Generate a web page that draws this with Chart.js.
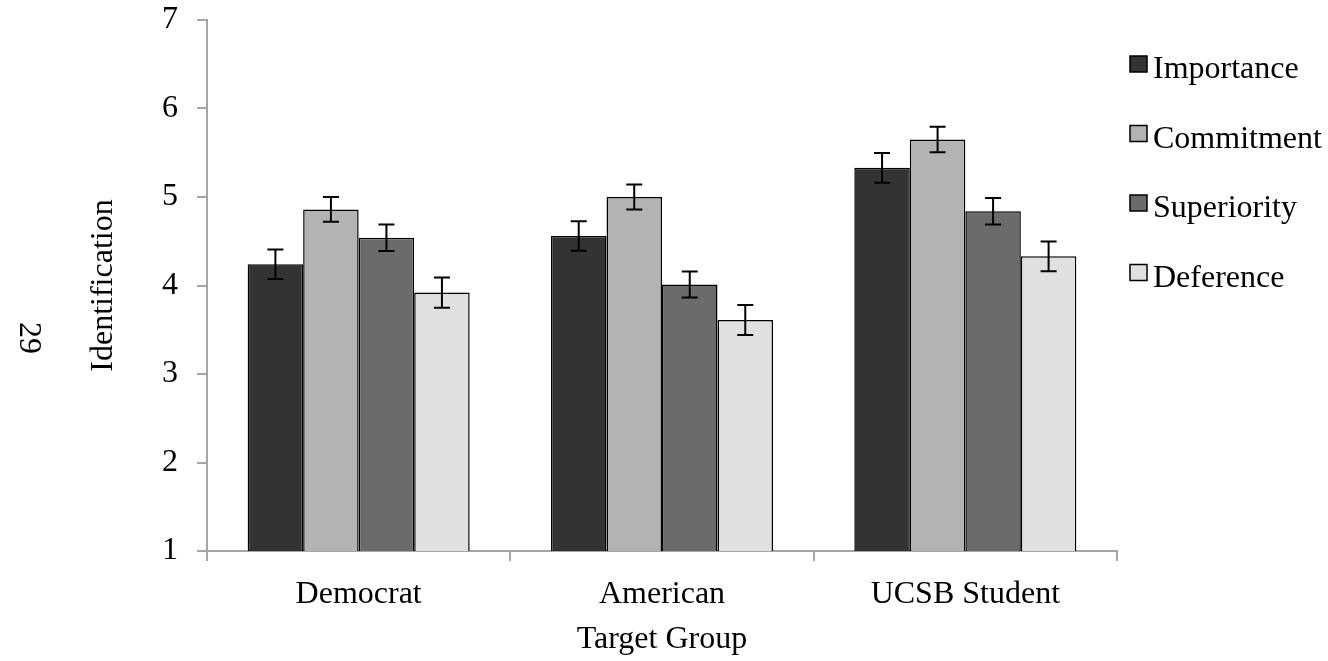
<!DOCTYPE html>
<html>
<head>
<meta charset="utf-8">
<script src="https://cdn.jsdelivr.net/npm/chart.js@4/dist/chart.umd.min.js"></script>
<style>
  html, body { margin: 0; padding: 0; background: #fff; }
  #wrap { width: 1328px; height: 661px; }
</style>
</head>
<body>
<div id="wrap"><canvas id="chart" width="1328" height="661"></canvas></div>
<script>
const categories = ["Democrat", "American", "UCSB Student"];
const seriesNames = ["Importance", "Commitment", "Superiority", "Deference"];
const importance = [4.24, 4.56, 5.33];
const commitment = [4.86, 5.00, 5.65];
const superiority = [4.54, 4.01, 4.84];
const deference = [3.92, 3.61, 4.33];
const importanceErr = [0.166, 0.166, 0.168];
const commitmentErr = [0.14, 0.14, 0.143];
const superiorityErr = [0.15, 0.147, 0.15];
const deferenceErr = [0.17, 0.17, 0.168];
const yTicks = [1, 2, 3, 4, 5, 6, 7];

const fillColors = ["#333333", "#b3b3b3", "#6b6b6b", "#e0e0e0"];
const FONT = "'Liberation Serif', 'Times New Roman', serif";
const AXIS_GRAY = "#a6a6a6";

const values = [importance, commitment, superiority, deference];
const errors = [importanceErr, commitmentErr, superiorityErr, deferenceErr];

// error bars drawn on top of the bars
const errorBarPlugin = {
  id: "errorBars",
  afterDatasetsDraw(chart) {
    const ctx = chart.ctx;
    const y = chart.scales.y;
    ctx.save();
    ctx.strokeStyle = "#000";
    ctx.lineWidth = 2;
    chart.data.datasets.forEach((ds, i) => {
      const meta = chart.getDatasetMeta(i);
      meta.data.forEach((bar, j) => {
        const v = ds.data[j];
        const e = errors[i][j];
        const top = y.getPixelForValue(v + e);
        const bot = y.getPixelForValue(v - e);
        const x = bar.x;
        ctx.beginPath();
        ctx.moveTo(x, top); ctx.lineTo(x, bot);
        ctx.moveTo(x - 8, top); ctx.lineTo(x + 8, top);
        ctx.moveTo(x - 8, bot); ctx.lineTo(x + 8, bot);
        ctx.stroke();
      });
    });
    ctx.restore();
  }
};

// legend at the right + page number on the left
const sideTextPlugin = {
  id: "sideText",
  afterDraw(chart) {
    const ctx = chart.ctx;
    ctx.save();
    ctx.font = "32px " + FONT;
    ctx.textBaseline = "alphabetic";
    ctx.textAlign = "left";
    chart.data.datasets.forEach((ds, i) => {
      const top = 56 + i * 69.5;
      ctx.fillStyle = ds.backgroundColor;
      ctx.fillRect(1130, top, 17, 16);
      ctx.strokeStyle = "#000";
      ctx.lineWidth = 1.5;
      ctx.strokeRect(1130, top, 17, 16);
      ctx.fillStyle = "#000";
      ctx.fillText(ds.label, 1153, top + 22);
    });

    ctx.translate(28, 338);
    ctx.rotate(Math.PI / 2);
    ctx.textAlign = "center";
    ctx.textBaseline = "middle";
    ctx.fillText("29", 0, 0);
    ctx.restore();
  }
};

const ctx = document.getElementById("chart");
new Chart(ctx, {
  type: "bar",
  data: {
    labels: categories,
    datasets: seriesNames.map((name, i) => ({
      label: name,
      data: values[i],
      backgroundColor: fillColors[i],
      borderColor: "#000",
      borderWidth: 1.5,
      categoryPercentage: 0.732,
      barPercentage: 1.0
    }))
  },
  options: {
    responsive: false,
    animation: false,
    devicePixelRatio: 1,
    layout: { padding: { left: 0, right: 211, top: 20, bottom: 0 } },
    plugins: {
      legend: { display: false },
      tooltip: { enabled: false }
    },
    scales: {
      x: {
        afterFit(scale) {
          scale.height = 110;
          scale.paddingLeft = 0;
          scale.paddingRight = 0;
        },
        grid: {
          drawOnChartArea: false,
          color: AXIS_GRAY,
          lineWidth: 2,
          tickLength: 10
        },
        border: { color: AXIS_GRAY, width: 2 },
        ticks: {
          color: "#000",
          font: { family: FONT, size: 32 },
          padding: 14
        },
        title: {
          display: true,
          text: "Target Group",
          color: "#000",
          font: { family: FONT, size: 32 },
          padding: { top: 0, bottom: 2 }
        }
      },
      y: {
        min: 1,
        max: 7,
        afterFit(scale) {
          scale.width = 207;
          scale.paddingTop = 0;
          scale.paddingBottom = 0;
        },
        afterBuildTicks(scale) {
          scale.ticks = yTicks.map(v => ({ value: v }));
        },
        grid: {
          drawOnChartArea: false,
          color: AXIS_GRAY,
          lineWidth: 2,
          tickLength: 10
        },
        border: { color: AXIS_GRAY, width: 2 },
        ticks: {
          color: "#000",
          font: { family: FONT, size: 32 },
          padding: 19
        },
        title: {
          display: true,
          text: "Identification",
          color: "#000",
          font: { family: FONT, size: 32 },
          padding: { top: 84, bottom: 0 }
        }
      }
    }
  },
  plugins: [errorBarPlugin, sideTextPlugin]
});
</script>
</body>
</html>
